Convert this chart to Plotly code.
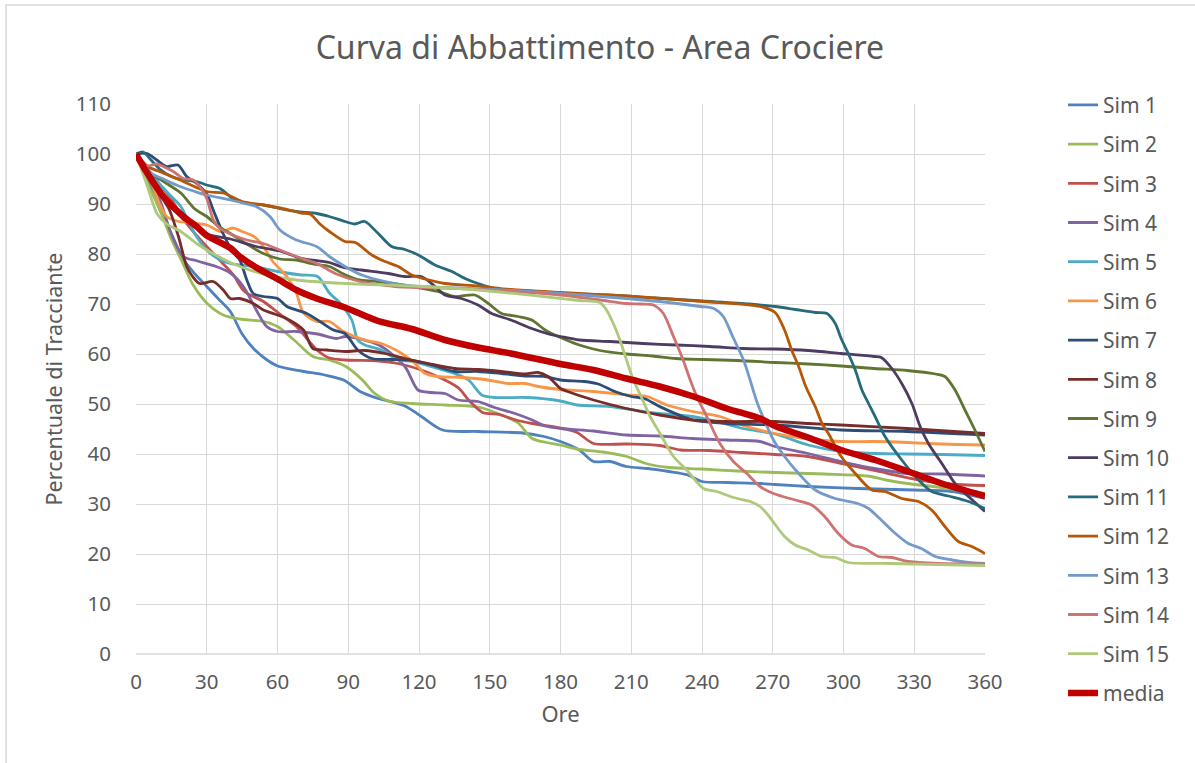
import plotly.graph_objects as go

# Curve di abbattimento: (ore, percentuale di tracciante) per ciascuna simulazione
SIM_1 = [(0,100),(5,95),(10,89),(15,84),(20,79),(25,76),(30,73.5),(35,71),(40,68.5),(45,64),
         (50,61),(55,59),(60,57.6),(70,56.6),(80,55.8),(88,54.8),(95,52.5),(102,51.2),(114,49.6),
         (121,47.5),(130,44.8),(145,44.5),(164,44.2),(173,43.5),(180,42.5),(188,40.8),(194,38.5),
         (201,38.5),(208,37.5),(217,37.1),(226,36.5),(234,35.8),(240,34.5),(251,34.3),(265,34.1),
         (271,33.9),(285,33.5),(306,33.1),(330,32.8),(346,32.5),(360,31.1)]

SIM_2 = [(0,100),(5,94),(10,89),(15,83),(20,78),(24,74),(30,70.2),(37,67.8),(44,67),(54,66.5),
         (60,65.5),(67,62.8),(75,59.5),(82,58.8),(89,57.5),(96,54.8),(101,52.2),(107,50.6),
         (117,50.1),(131,49.8),(145,49.4),(155,47.8),(162,46.2),(168,43.1),(174,42.3),(180,41.8),
         (188,40.9),(198,40.4),(208,39.5),(217,38),(226,37.3),(240,37),(255,36.6),(271,36.3),
         (292,36),(310,35.6),(318,34.8),(327,34.1),(338,33.5),(349,32.8),(360,32.1)]

SIM_3 = [(0,100),(5,97),(10,94),(15,91),(20,87),(27,83),(35,79),(41,76),(46,72.5),(54,70.5),
         (61,68),(68,65.5),(77,60.7),(82,59.2),(89,58.8),(103,58.6),(111,58.1),(121,56.8),
         (131,54.8),(137,53.1),(141,50.8),(147,48.3),(154,47.9),(161,46.8),(168,46.1),(180,45.2),
         (187,44.3),(194,42.1),(208,42),(222,41.7),(231,40.8),(243,40.7),(257,40.3),(271,39.9),
         (285,39.5),(300,38),(315,36.5),(330,35),(345,34),(360,33.7)]

SIM_4 = [(0,100),(5,96),(10,91),(15,84),(20,79.5),(26,78.6),(34,77.5),(40,76.2),(45.5,73.5),
         (51,68.8),(55.4,65.5),(60,64.5),(68,64.5),(77,64),(85,63.1),(89,63.5),(103,61.8),
         (114,57.5),(119.6,52.8),(125.4,52.3),(131,52.1),(136.6,50.8),(145,50.5),(152,49.3),
         (160.7,48.1),(168,46.8),(173.5,45.6),(180,45.1),(194,44.6),(208,43.8),(222,43.6),
         (236,43.1),(250.6,42.8),(264.6,42.5),(271,41.5),(285,40.1),(299,38.5),(313,37.1),
         (327,36.1),(342,36),(360,35.6)]

SIM_5 = [(0,100),(5,97),(10,94),(15,91.5),(19,89.5),(25,84),(30,80.8),(35,79),(40,78.1),(50,77.5),
         (60,76.5),(70,75.8),(77,75.5),(82,72.2),(86.5,70.2),(91.5,66.8),(94,62.8),(97,61.8),
         (104,60.8),(111,58.9),(117,58.5),(128,57.1),(135,56.1),(141,54.8),(146.6,51.8),(152,51.3),
         (166,51.3),(180,50.6),(187,49.8),(201,49.5),(212.5,48.7),(222,48.1),(236,47.5),(246,46.5),
         (257.4,45.1),(271,44),(285,41.8),(299,40.5),(313,40.1),(327,40),(342,39.9),(360,39.7)]

SIM_6 = [(0,100),(5,96),(10,90),(13,87.5),(18,86.5),(24,86.2),(30,85.8),(36,84.5),(41,85.2),
         (45,84.5),(50,83.5),(54,81.5),(58,78.5),(64,75.5),(68,72.2),(71,68.2),(76.6,66.5),(82,66.5),
         (88,64.5),(97,62.8),(104,62.1),(112.7,60.1),(118.3,58.1),(122.6,56.1),(128,55.5),(138,55.3),
         (148,54.9),(157.8,54.1),(165,54.1),(170.5,53.5),(180,52.9),(194,52.5),(208,51.8),
         (216.7,51.5),(225,49.8),(236,48.5),(247.6,47.5),(259,45.5),(271,44.1),(285,43),(299,42.5),
         (313,42.5),(327,42.3),(342,42),(360,41.8)]

SIM_7 = [(0,100),(4.7,100.1),(8.8,98.8),(13,97.5),(17.8,97.8),(21.5,95.5),(25.7,94.1),(30,92),
         (33,88.5),(37,84),(41,80.5),(44,78.8),(47,74.8),(49.7,72.1),(54,71.5),(60,71.1),(64,69.5),
         (72.4,68.1),(78,66.5),(83.7,64.8),(88.6,64.1),(94,60.8),(100,59.1),(108.4,58.9),(117,58.7),
         (125.4,57.8),(135,56.5),(145,56.5),(155,56.1),(165,55.6),(173.5,55.5),(180,54.8),(190,54.5),
         (196,54),(203,52.5),(210,51.5),(216,51),(222,49.5),(236,46.8),(250.6,46.1),(271,45.8),
         (299,44.8),(327,44.5),(360,43.8)]

SIM_8 = [(0,100),(5,96),(10,92),(14,89),(18,83.5),(21.5,77.5),(24,75.5),(27,74.1),(32.7,74.5),
         (37,72.8),(40,71.1),(44,71.1),(49.7,70.1),(54,68.8),(60,67.8),(65,66.8),(71,64.8),(75,61.1),
         (81,60.8),(88.6,60.5),(97,60.7),(105.6,60.1),(114,59.1),(124,58.1),(135,57.1),(145,56.9),
         (155,56.5),(165,56),(170.5,56.3),(174.7,55.5),(180,53.1),(183,52.5),(194,50.8),(208,49.1),
         (222,47.8),(236,46.8),(250,46.5),(271,46.5),(285,46.1),(299,45.8),(327,45.1),(360,44.1)]

SIM_9 = [(0,100),(3,97),(10,95),(15,93.5),(19,92.2),(25,89),(30,87.5),(35,85.5),(40,84.1),(47,82),
         (54,80.1),(61,79),(68,78.8),(75,78),(82,77.5),(88,76),(94,74.9),(102.6,74.5),(117,73.5),
         (128,72.5),(135,71.5),(143.7,71.8),(149.4,70.1),(155,68.1),(162,67.5),(167.8,66.8),
         (173.5,64.8),(180,63.3),(188,61.8),(196.7,60.7),(208,60),(219,59.6),(229,59.1),(240.5,58.9),
         (255,58.7),(271,58.3),(285,58),(299,57.6),(313,57.1),(327,56.7),(339,56),(343,55.5),
         (347.3,52.8),(351.5,48.8),(355,45.5),(360,40.5)]

SIM_10 = [(0,100),(5,96),(10,93),(15,90),(20,88),(25,86),(30,84),(40,83),(51,81.5),(61,80.6),
          (69.5,79.2),(82,78.3),(88,77.3),(95.7,76.8),(107,76.1),(114,75.5),(121,75.5),(126.8,73.5),
          (131,71.8),(138,71.1),(145,69.8),(150.8,68.1),(159,66.8),(167.8,65.1),(175,64),(180,63.5),
          (188,62.8),(201,62.5),(215,62.1),(229,61.8),(243.4,61.5),(257.4,61.1),(271,61),(285,60.7),
          (299,60.1),(313,59.5),(316,59.3),(320.5,57.1),(324.7,54.1),(329,50.1),(332.5,45.5),
          (336,42.1),(341.7,38.1),(347.3,34.1),(353,31.5),(360,28.5)]

SIM_11 = [(0,100),(3,100.4),(6,99),(10,97),(15,95.5),(20,94.8),(25.7,94.5),(30,93.8),(35.6,93.1),
          (41,91.1),(47,90.1),(54,89.8),(61,89.1),(68,88.5),(76.6,88.1),(82,87.5),(88.6,86.5),
          (92.8,86),(97,86.5),(102.7,84.1),(108.4,81.5),(114,80.9),(119.7,79.8),(126.8,77.8),
          (133.9,76.5),(139.5,75.1),(145,74.1),(152,73.1),(165,72.5),(180,72.1),(200,71.8),
          (220,71.2),(240,70.6),(260,70),(271,69.5),(279.5,68.9),(288,68.3),(293,68.1),(296.5,66.1),
          (299,63.1),(302,60.1),(305,56.8),(307.8,52.8),(310.6,50.1),(313.4,47.5),(317.6,43.5),
          (324.7,38.8),(331.8,34.8),(337.4,32.5),(344.5,31.6),(353,30.5),(360,29.1)]

SIM_12 = [(0,100),(5,97.5),(10,96.5),(18.7,94.8),(30,92.5),(37,92.2),(45,90.5),(54,89.8),(65,88.8),
          (70,88.2),(73.8,88),(78,86),(82,84.5),(88.6,82.5),(93,82.3),(100,79.8),(105.6,78.5),
          (111.2,77.5),(117,75.8),(122.6,75),(131,74.1),(145,73.6),(159,72.9),(180,72.3),(208,71.6),
          (240.6,70.5),(264.6,69.5),(271,68.3),(275,64.8),(278,60.8),(281,57.5),(284,53.5),
          (288,49.5),(291,46),(293.6,44.1),(299,39.5),(305,36.1),(312,32.8),(317.6,32.5),
          (324.7,31.1),(331.8,30.5),(337.4,28.8),(343,25.5),(348.7,22.5),(354.4,21.5),(360,20.1)]

SIM_13 = [(0,100),(5,96.5),(11.6,95),(18.7,93.5),(25,92.5),(30,91.8),(40,90.8),(47,90),(51,89.5),
          (56.8,87.5),(61,84.8),(68,82.8),(76.6,81.5),(82,79.5),(88.6,77.5),(95.7,75.8),(105.6,74.5),
          (117,73.6),(131,73.3),(152,72.9),(180,72.1),(208,71.1),(222,70.5),(239.4,69.5),(245,69.1),
          (249,67.5),(253,63.5),(257.6,58.8),(260.4,54.8),(263,50.8),(264.6,48.8),(270.3,42.8),
          (275,39.5),(281,36.1),(288,32.8),(296.5,31.1),(306,30.1),(310.6,29.1),(316,26.8),(322,24.1),
          (327.5,22.1),(333,21.1),(339,19.5),(346,18.8),(353,18.3),(360,18.1)]

SIM_14 = [(0,100),(3,97.5),(8.8,98),(11.6,97.5),(15.8,96.5),(20,95.1),(24.3,94.8),(27,93.5),(30,91.1),
          (32.8,86.8),(35.6,85.1),(41,83.8),(47,82.8),(54,82.1),(61,80.8),(68,79.5),(76.6,78.1),
          (85,76),(95,74.5),(110,73.5),(130,73.2),(150,72.8),(180,71.8),(196.7,70.8),(208,70.1),
          (214,70),(219.4,69.8),(223.6,68.1),(227.9,63.5),(232,58.8),(235,54.8),(237.8,51.5),(242,47.5),
          (247.6,42.1),(253.3,38.5),(259,36.1),(264.6,33.5),(270.3,32.1),(279.5,30.8),(286.5,29.8),
          (292,27.5),(297.8,24.1),(303.5,21.8),(309,21.1),(314.8,19.5),(320.5,19.3),(327.5,18.5),
          (340,18.1),(360,18)]

SIM_15 = [(0,100),(4.5,94),(9,88),(13,86),(19,84.5),(26,82),(33,80),(40,78.3),(47,77),(54,76),
          (68,74.8),(89,74.1),(117,73.6),(145,72.8),(180,71.1),(188,70.7),(196.7,70.3),(199.5,68.8),
          (202.4,66.1),(205.2,62.8),(208,58.8),(210.9,54.8),(213.7,52),(218,47.5),(222.2,44.1),
          (227.9,39.5),(233.5,36.8),(240.6,33.1),(246.3,32.5),(253.3,31.3),(260.4,30.5),(264.6,29.5),
          (268,27.8),(271,25.9),(275,23.5),(279.5,21.8),(285,20.8),(290.7,19.5),(296.5,19.3),
          (302,18.3),(320,18.1),(360,17.7)]

MEDIA = [(0,100),(5,96),(11.6,91.5),(20,87.5),(25.7,85.5),(30,83.7),(40,81.2),(44,79.5),(51,77.3),
         (60,75),(68,72.8),(76.6,71.1),(88.6,69.3),(102.7,66.6),(117,65),(131,62.8),(145,61.3),
         (159,60.1),(180,58),(194,56.8),(208,55.1),(222,53.5),(236.4,51.5),(250.5,49.1),(264.6,47.1),
         (271,45.6),(285,43.3),(299,40.8),(313.4,38.8),(327.5,36.5),(341.7,34.1),(360,31.6)]

SERIES_NAMES = [f"Sim {i}" for i in range(1, 16)] + ["media"]
SERIES_DATA = [SIM_1, SIM_2, SIM_3, SIM_4, SIM_5, SIM_6, SIM_7, SIM_8, SIM_9, SIM_10,
               SIM_11, SIM_12, SIM_13, SIM_14, SIM_15, MEDIA]
SERIES_COLORS = ["#4F81BD", "#9BBB59", "#C0504D", "#8064A2", "#4BACC6", "#F79646",
                 "#2C4D75", "#772C2A", "#5F7530", "#4D3B62", "#276A7C", "#B65708",
                 "#729ACA", "#CD7371", "#AFC97A", "#C00000"]

X_TICKS = list(range(0, 361, 30))
Y_TICKS = list(range(0, 111, 10))

FONT = "Noto Sans"
GREY_TEXT = "#595959"
GRID = "#D9D9D9"

fig = go.Figure()
for name, data, color in zip(SERIES_NAMES, SERIES_DATA, SERIES_COLORS):
    hours = [p[0] for p in data]
    values = [p[1] for p in data]
    width = 6.5 if name == "media" else 2.8
    fig.add_trace(go.Scatter(
        x=hours, y=values, mode="lines", name=name, legendgroup=name,
        line=dict(color=color, width=width, shape="spline", smoothing=0.8),
    ))

axis_common = dict(
    showgrid=True, gridcolor=GRID, gridwidth=1, zeroline=False,
    showline=False, ticks="outside", tickcolor="rgba(0,0,0,0)",
    tickfont=dict(family=FONT, size=20.5, color=GREY_TEXT),
)

fig.update_layout(
    width=1195, height=763,
    margin=dict(l=136, r=210, t=104, b=109),
    paper_bgcolor="white", plot_bgcolor="white",
    font=dict(family=FONT, color=GREY_TEXT),
    title=dict(text="Curva di Abbattimento - Area Crociere", x=0.502, xref="container",
               y=1 - 48 / 763, yref="container", xanchor="center", yanchor="middle",
               font=dict(family=FONT, size=32, color=GREY_TEXT)),
    xaxis=dict(range=[0, 360], tickvals=X_TICKS, ticklen=9,
               title=dict(text="Ore", standoff=13, font=dict(family=FONT, size=22, color=GREY_TEXT)),
               **axis_common),
    yaxis=dict(range=[0, 110], tickvals=Y_TICKS, ticklen=20,
               title=dict(text="Percentuale di Tracciante", standoff=7,
                          font=dict(family=FONT, size=21.5, color=GREY_TEXT)),
               **axis_common),
    legend=dict(x=1.0919, xanchor="left", y=1.035, yanchor="top",
                font=dict(family=FONT, size=21, color=GREY_TEXT),
                tracegroupgap=8.9, bgcolor="rgba(0,0,0,0)", maxheight=760),
    showlegend=True,
)

# bottom axis line and outer chart frame
fig.add_shape(type="line", xref="paper", yref="paper", x0=0, x1=1, y0=0, y1=0,
              line=dict(color=GRID, width=1.5), layer="below")
fig.add_shape(type="rect", xref="paper", yref="paper",
              x0=(6 - 136) / 849, x1=(1200 - 136) / 849,
              y0=(654 - 770) / 550, y1=(654 - 5) / 550,
              line=dict(color=GRID, width=1.5), fillcolor="rgba(0,0,0,0)", layer="below")

fig.write_html("out.html")
